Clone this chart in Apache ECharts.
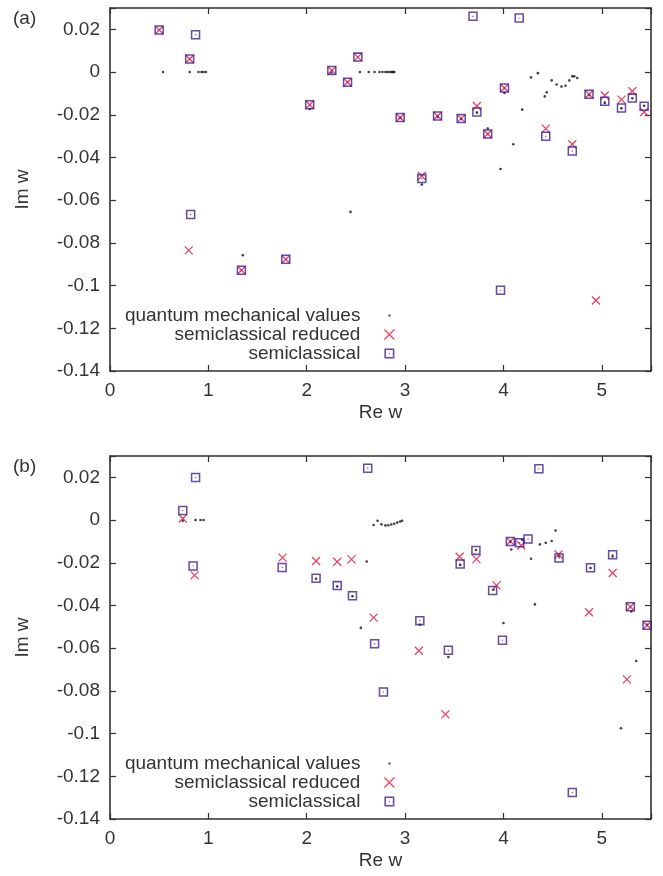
<!DOCTYPE html>
<html>
<head>
<meta charset="utf-8">
<script src="https://cdn.jsdelivr.net/npm/echarts@6/dist/echarts.min.js"></script>
<style>
  html, body { margin: 0; padding: 0; background: #fff; }
  #chart { width: 663px; height: 876px; }
</style>
</head>
<body>
<div id="chart"></div>
<script>
// ---- panel (a) ----
const aQuantum = [
  [0.54, 0], [0.81, 0], [0.90, 0], [0.93, 0], [0.95, 0], [0.975, 0],
  [2.54, 0], [2.63, 0], [2.69, 0], [2.74, 0], [2.77, 0], [2.80, 0], [2.82, 0], [2.84, 0],
  [2.86, 0], [2.87, 0], [2.88, 0], [2.89, 0],
  [1.35, -0.0858], [2.445, -0.0655], [3.97, -0.0454], [4.10, -0.0338], [4.19, -0.0176],
  [4.28, -0.0025], [4.35, -0.0005], [4.49, -0.0039], [4.44, -0.0095], [4.42, -0.0114],
  [4.54, -0.0058], [4.59, -0.0068], [4.63, -0.0064], [4.67, -0.0039], [4.70, -0.002],
  [4.72, -0.002], [4.75, -0.0028],
  [2.03, -0.0173], [3.17, -0.0527], [3.84, -0.0264], [4.01, -0.0098], [3.73, -0.019],
  [2.25, -0.0003], [2.95, -0.0215], [3.33, -0.021], [3.57, -0.022], [4.87, -0.0108],
  [5.03, -0.0145], [5.20, -0.017], [5.31, -0.0123], [5.43, -0.0158]
];
const aReduced = [
  [0.50, 0.0197], [0.81, 0.0061], [0.80, -0.0835], [1.336, -0.0928], [1.787, -0.0877],
  [2.03, -0.0153], [2.255, 0.0007], [2.415, -0.0048], [2.52, 0.0070], [2.95, -0.0213],
  [3.17, -0.0487], [3.33, -0.0206], [3.57, -0.0218], [3.73, -0.0159], [3.84, -0.029],
  [4.01, -0.0075], [4.43, -0.0265], [4.70, -0.0338], [4.87, -0.0104], [4.94, -0.107],
  [5.03, -0.011], [5.20, -0.0129], [5.31, -0.009], [5.43, -0.0187]
];
const aSemi = [
  [0.50, 0.0197], [0.87, 0.0175], [0.81, 0.0061], [0.82, -0.0667], [1.336, -0.0928],
  [1.787, -0.0877], [2.03, -0.0153], [2.255, 0.0007], [2.415, -0.0048], [2.52, 0.0070],
  [2.95, -0.0213], [3.17, -0.0499], [3.33, -0.0206], [3.57, -0.0218], [3.69, 0.0261],
  [3.73, -0.0187], [3.84, -0.029], [3.97, -0.1022], [4.01, -0.0075], [4.16, 0.0253],
  [4.43, -0.0301], [4.70, -0.037], [4.87, -0.0104], [5.03, -0.0137], [5.20, -0.0168],
  [5.31, -0.0122], [5.43, -0.016]
];

// ---- panel (b) ----
const bQuantum = [
  [0.74, -0.0003], [0.87, 0], [0.92, 0], [0.95, 0], [2.61, -0.0194], [2.55, -0.0505],
  [2.68, -0.0023], [2.72, -0.0003], [2.76, -0.002], [2.80, -0.0025], [2.83, -0.0024],
  [2.86, -0.0021], [2.89, -0.0017], [2.92, -0.0012], [2.95, -0.0007], [2.97, -0.0003],
  [4.08, -0.0138], [4.19, -0.0092], [4.28, -0.0181], [4.37, -0.0114], [4.43, -0.0106],
  [4.49, -0.0098], [4.53, -0.0049], [4.32, -0.0395], [4.0, -0.0482], [3.15, -0.049],
  [3.44, -0.0641], [5.195, -0.0975], [5.35, -0.066], [5.30, -0.0428], [3.90, -0.0325],
  [3.72, -0.014], [3.56, -0.021], [2.465, -0.0357], [2.31, -0.0311], [2.095, -0.0275],
  [4.07, -0.0102], [4.565, -0.017], [5.11, -0.017], [4.885, -0.0225], [5.46, -0.049]
];
const bReduced = [
  [0.74, 0.0007], [0.86, -0.0259], [1.754, -0.0176], [2.095, -0.0192], [2.31, -0.0195],
  [2.455, -0.0184], [2.68, -0.0457], [3.14, -0.0612], [3.41, -0.091], [3.555, -0.0172],
  [3.725, -0.0183], [3.93, -0.0306], [4.07, -0.010], [4.18, -0.0119], [4.56, -0.0161],
  [4.87, -0.0432], [5.11, -0.0248], [5.255, -0.0746], [5.29, -0.0406], [5.46, -0.0493]
];
const bSemi = [
  [0.87, 0.0199], [0.74, 0.0045], [0.845, -0.0215], [1.75, -0.0222], [2.095, -0.0273],
  [2.31, -0.0307], [2.465, -0.0354], [2.62, 0.0243], [2.69, -0.0579], [2.78, -0.0805],
  [3.15, -0.0471], [3.44, -0.061], [3.56, -0.0206], [3.72, -0.0142], [3.89, -0.033],
  [3.99, -0.0563], [4.07, -0.010], [4.165, -0.0106], [4.25, -0.0089], [4.36, 0.024],
  [4.565, -0.0178], [4.70, -0.1276], [4.885, -0.0223], [5.11, -0.0162], [5.29, -0.0406],
  [5.46, -0.0493]
];

const seriesNames = ['quantum mechanical values', 'semiclassical reduced', 'semiclassical'];
const panelLabels = ['(a)', '(b)'];
const xTicks = [0, 1, 2, 3, 4, 5];
const yTicks = [-0.14, -0.12, -0.1, -0.08, -0.06, -0.04, -0.02, 0, 0.02];

const FONT = '"Liberation Sans", Arial, Helvetica, sans-serif';
const TEXT = '#333';
const AXIS = '#352f31';
const RED = '#e5133c';
const PURPLE = '#3f1f8e';

const crossPath = 'path://M0,0L10,10M10,0L0,10';
const squarePath = 'path://M0,0h10v10h-10zM1.6,1.6v6.8h6.8v-6.8zM4.4,4.4h1.2v1.2h-1.2z';
const dotIcon = 'path://M0,0M10,10M4,4h2v2h-2z';

const grids = [
  { left: 110, top: 8, width: 541, height: 363 },
  { left: 110, top: 456, width: 541, height: 363 }
];

const xLabel = v => xTicks.some(t => Math.abs(t - v) < 1e-6) ? String(v) : '';
const yLabel = v => yTicks.some(t => Math.abs(t - v) < 1e-6) ? String(+v.toFixed(2)) : '';

const xAxes = [];
const yAxes = [];
grids.forEach((g, i) => {
  ['bottom', 'top'].forEach(pos => {
    xAxes.push({
      type: 'value', gridIndex: i, position: pos, min: 0, max: 5.5, interval: 1,
      name: pos === 'bottom' ? 'Re w' : '', nameLocation: 'middle', nameGap: 32,
      nameTextStyle: { fontFamily: FONT, fontSize: 19, color: TEXT },
      axisLine: { show: true, onZero: false, lineStyle: { color: AXIS, width: 1.6 } },
      axisTick: { show: true, inside: true, length: 6, lineStyle: { color: AXIS, width: 1.2 } },
      axisLabel: { show: pos === 'bottom', formatter: xLabel, margin: 10, fontFamily: FONT, fontSize: 19, color: TEXT },
      splitLine: { show: false }
    });
  });
  ['left', 'right'].forEach(pos => {
    yAxes.push({
      type: 'value', gridIndex: i, position: pos, min: -0.14, max: 0.03, interval: 0.02,
      name: pos === 'left' ? 'Im w' : '', nameLocation: 'middle', nameGap: 78,
      nameTextStyle: { fontFamily: FONT, fontSize: 19, color: TEXT },
      axisLine: { show: true, onZero: false, lineStyle: { color: AXIS, width: 1.6 } },
      axisTick: { show: true, inside: true, length: 6, lineStyle: { color: AXIS, width: 1.2 } },
      axisLabel: { show: pos === 'left', formatter: yLabel, margin: 10, fontFamily: FONT, fontSize: 19, color: TEXT },
      splitLine: { show: false }
    });
  });
});

const panels = [
  [aQuantum, aReduced, aSemi],
  [bQuantum, bReduced, bSemi]
];

const series = [];
panels.forEach((sets, i) => {
  const axisIdx = i * 2;
  series.push({
    name: seriesNames[0], type: 'scatter', xAxisIndex: axisIdx, yAxisIndex: axisIdx,
    symbol: 'circle', symbolSize: 2.6, itemStyle: { color: '#111' }, data: sets[0], z: 2
  });
  series.push({
    name: seriesNames[1], type: 'scatter', xAxisIndex: axisIdx, yAxisIndex: axisIdx,
    symbol: crossPath, symbolSize: 8,
    itemStyle: { color: RED, borderColor: RED, borderWidth: 1.3 }, data: sets[1], z: 3
  });
  series.push({
    name: seriesNames[2], type: 'scatter', xAxisIndex: axisIdx, yAxisIndex: axisIdx,
    symbol: squarePath, symbolSize: 9.5,
    itemStyle: { color: PURPLE, borderWidth: 0 }, data: sets[2], z: 4
  });
});

const legends = [306, 754].map(top => ({
  orient: 'vertical', align: 'right', right: 268, top: top, padding: 0,
  itemWidth: 10, itemHeight: 10, itemGap: 0, selectedMode: false,
  textStyle: { fontFamily: FONT, fontSize: 19, color: TEXT, lineHeight: 18.5, padding: [0, 19, 0, 0] },
  data: [
    { name: seriesNames[0], icon: dotIcon },
    { name: seriesNames[1], icon: crossPath, itemStyle: { borderWidth: 1.2 } },
    { name: seriesNames[2], icon: squarePath, itemStyle: { borderWidth: 0 } }
  ]
}));

const chart = echarts.init(document.getElementById('chart'));
chart.setOption({
  animation: false,
  backgroundColor: '#fff',
  title: panelLabels.map((t, i) => ({
    text: t, left: 13, top: i ? 457 : 9, padding: 0,
    textStyle: { fontFamily: FONT, fontSize: 19, fontWeight: 'normal', color: TEXT }
  })),
  grid: grids,
  xAxis: xAxes,
  yAxis: yAxes,
  legend: legends,
  series: series
});
</script>
</body>
</html>
